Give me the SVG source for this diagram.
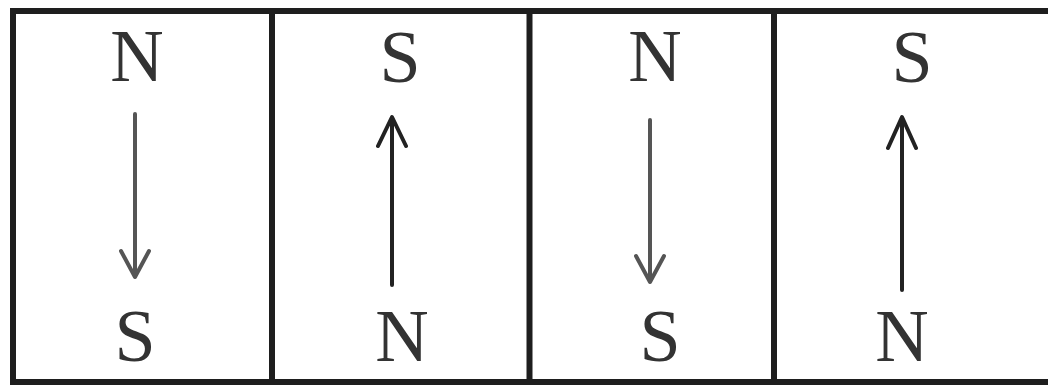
<svg xmlns="http://www.w3.org/2000/svg" width="1048" height="388" viewBox="0 0 1048 388">
<style>
.frame{fill:none;stroke:#1e1e1e;stroke-width:6}
.lbl{font-family:"Liberation Serif","DejaVu Serif",serif;font-size:74px;fill:#333;text-anchor:middle}
.shaft{stroke-width:4;fill:none;stroke-linecap:round;stroke-linejoin:round}
.gray{stroke:#555}
.dark{stroke:#222}
</style>
<rect x="0" y="0" width="1048" height="388" fill="#fff"/>
<g id="frame">
<path class="frame" d="M1052,11 H13 V382 H1052"/>
<line class="frame" x1="272" y1="11" x2="272" y2="382"/>
<line class="frame" x1="529.5" y1="11" x2="529.5" y2="382"/>
<line class="frame" x1="774" y1="11" x2="774" y2="382"/>
</g>
<g id="cell1">
<text class="lbl" x="137" y="81">N</text>
<text class="lbl" x="135" y="361">S</text>
</g>
<g id="cell2">
<text class="lbl" x="400" y="82">S</text>
<text class="lbl" x="402" y="361">N</text>
</g>
<g id="cell3">
<text class="lbl" x="655" y="81">N</text>
<text class="lbl" x="660" y="361">S</text>
</g>
<g id="cell4">
<text class="lbl" x="912" y="82">S</text>
<text class="lbl" x="902" y="361">N</text>
</g>
<g id="connectors">
<path class="shaft gray" d="M135,114 V276 M121,251 L135,277 L149,251"/>
<path class="shaft dark" d="M392,285 V118 M378,146 L392,117 L406,146"/>
<path class="shaft gray" d="M650,120 V281 M636,256 L650,282 L664,256"/>
<path class="shaft dark" d="M902,290 V118 M888,148 L902,117 L916,148"/>
</g>
</svg>
